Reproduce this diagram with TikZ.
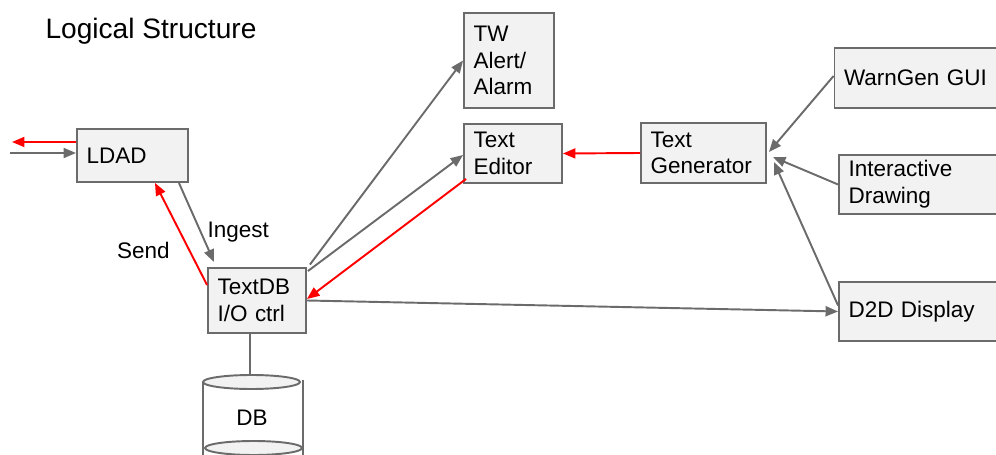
\documentclass[tikz,border=0pt]{standalone}
\usepackage{fontspec}
\setmainfont{Liberation Sans}
\usetikzlibrary{positioning,arrows.meta}
\definecolor{linegray}{HTML}{6B6B6B}
\definecolor{boxfill}{HTML}{F2F2F2}

\begin{document}
\begin{tikzpicture}[x=0.02cm, y=-0.02cm,
    box/.style n args={2}{rectangle, draw=linegray, fill=boxfill, line width=1.1pt,
        text width=#1, minimum height=#2, inner xsep=0.19cm, inner ysep=2pt, align=left,
        font=\fontsize{12.8}{15.2}\selectfont},
    arr/.style={draw=linegray, line width=1.1pt, -{Triangle[length=0.25cm,width=0.2cm]}},
    redarr/.style={arr, draw=red},
    lbl/.style={font=\fontsize{12.8}{15.2}\selectfont}]
    \useasboundingbox (0,0) rectangle (996,455);

    \node[lbl, font=\fontsize{16}{19}\selectfont] (title) at (151,31) {Logical Structure};
    \node[box={1.84cm}{1.06cm}] (ldad) at (132.5,155.5) {LDAD};
    \node[box={1.58cm}{1.30cm}] (textdb) at (257,300.5) {TextDB\\I/O ctrl};
    \node[box={1.42cm}{1.90cm}] (twalert) at (509,60.5) {TW\\Alert/\\Alarm};
    \node[box={1.58cm}{1.18cm}] (editor) at (513,153.5) {Text\\Editor};
    \node[box={2.12cm}{1.20cm}] (textgen) at (703.5,153) {Text\\Generator};
    \node[box={3.0cm}{1.20cm}] (warngen) at (919,78) {WarnGen GUI};
    \node[box={2.9cm}{1.18cm}] (drawing) at (921,184.5) {Interactive\\Drawing};
    \node[box={2.9cm}{1.18cm}] (d2d) at (921,311.5) {D2D Display};

    % DB cylinder
    \draw[linegray, line width=1.1pt] (203,382) -- (203,458) (303,380) -- (303,458);
    \draw[linegray, line width=1.1pt, fill=boxfill] (251.5,382) ellipse [x radius=0.97cm, y radius=0.14cm];
    \draw[linegray, line width=1.1pt, fill=boxfill] (253.5,448) ellipse [x radius=0.97cm, y radius=0.14cm];
    \node[lbl] (db) at (252,418) {DB};
    \coordinate (dbtop) at (250,375);

    \coordinate (ldadout) at (12,142);
    \coordinate (ldadin) at (10,153);

    \draw[redarr] ([yshift=0.27cm]ldad.west) -- (ldadout);
    \draw[arr] (ldadin) -- ([yshift=0.05cm]ldad.west);
    \draw[arr] ([xshift=-0.2cm]ldad.south east) -- node[lbl, right, pos=0.62] (ingest) {Ingest} ([xshift=0.14cm,yshift=0.1cm]textdb.north west);
    \draw[redarr] ([yshift=0.31cm]textdb.west) -- node[lbl, left=0.26cm, pos=0.34] (send) {Send} ([xshift=0.45cm]ldad.south);
    \draw[arr] ([xshift=0.06cm,yshift=0.05cm]textdb.north east) -- (twalert.west);
    \draw[arr] ([xshift=0.02cm,yshift=-0.08cm]textdb.north east) -- ([yshift=-0.03cm]editor.west);
    \draw[redarr] ([xshift=0.06cm,yshift=0.1cm]editor.south west) -- ([yshift=0.03cm]textdb.east);
    \draw[arr] (textdb.east) -- (d2d.west);
    \draw[redarr] (textgen.west) -- (editor.east);
    \draw[arr] ([yshift=0.04cm]warngen.west) -- ([xshift=0.04cm,yshift=0.02cm]textgen.east);
    \draw[arr] (drawing.west) -- ([xshift=0.12cm,yshift=-0.08cm]textgen.east);
    \draw[arr] ([yshift=0.12cm]d2d.west) -- ([xshift=0.14cm,yshift=-0.18cm]textgen.east);
    \draw[linegray, line width=1.1pt] ([xshift=-0.14cm]textdb.south) -- (dbtop);
\end{tikzpicture}
\end{document}
